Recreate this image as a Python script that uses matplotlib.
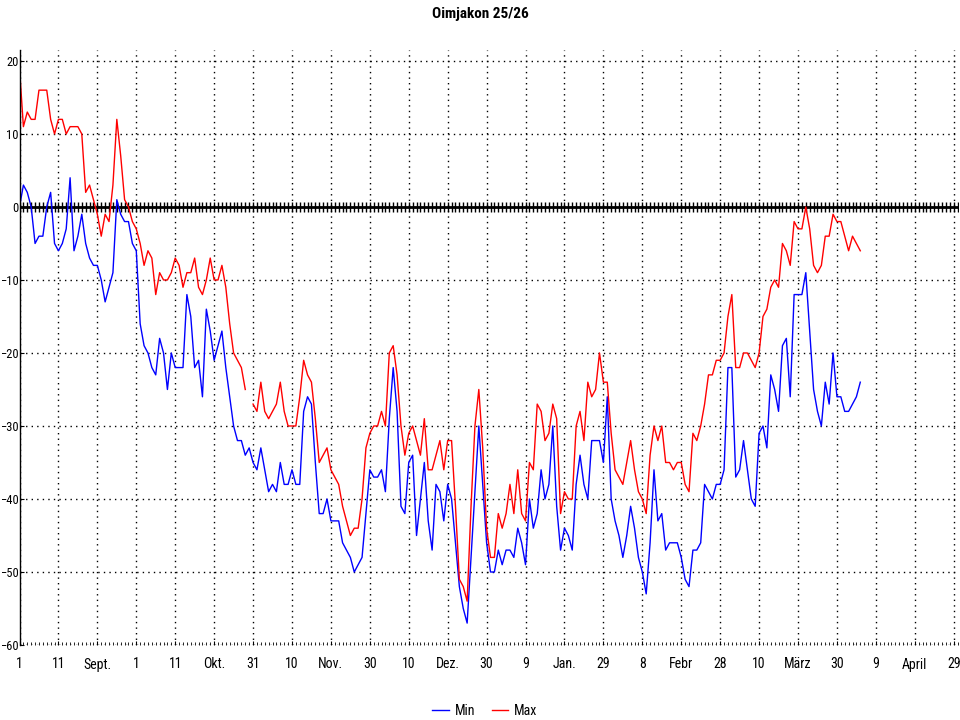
import numpy as np
import matplotlib
matplotlib.use("Agg")
import matplotlib.pyplot as plt
import matplotlib.patheffects as pe
from matplotlib import font_manager
from matplotlib.ticker import MultipleLocator

# daily values from 1 Sept 2025 on (day 0 = 1 Sept)
t_max = [19, 11, 13, 12, 12, 16, 16, 16, 12, 10, 12, 12, 10, 11, 11, 11, 10, 2, 3, 1,
         -1, -4, -1, -2, 3, 12, 7, 1, 0, -2, -3, -5, -8, -6, -7, -12, -9, -10, -10, -9,
         -7, -8, -11, -9, -9, -7, -11, -12, -10, -7, -10, -10, -8, -11, -16, -20, -21, -22, -25, np.nan,
         -27, -28, -24, -28, -29, -28, -27, -24, -28, -30, -30, -30, -26, -21, -23, -24, -29, -35, -34, -33,
         -36, -37, -38, -41, -43, -45, -44, -44, -40, -33, -31, -30, -30, -28, -30, -20, -19, -23, -30, -34,
         -31, -30, -32, -34, -29, -36, -36, -34, -32, -36, -32, -32, -41, -51, -52, -54, -41, -30, -25, -33,
         -44, -48, -48, -42, -44, -42, -38, -42, -36, -42, -43, -35, -36, -27, -28, -32, -31, -27, -29, -42,
         -39, -40, -40, -30, -28, -32, -24, -26, -25, -20, -24, -24, -31, -36, -37, -38, -35, -32, -36, -39,
         -40, -42, -34, -30, -32, -30, -35, -35, -36, -35, -35, -38, -39, -31, -32, -30, -27, -23, -23, -21,
         -21, -20, -15, -12, -22, -22, -20, -20, -21, -22, -20, -15, -14, -11, -10, -11, -5, -6, -8, -2,
         -3, -3, 0, -3, -8, -9, -8, -4, -4, -1, -2, -2, -4, -6, -4, -5, -6]

t_min = [0, 3, 2, 0, -5, -4, -4, 0, 2, -5, -6, -5, -3, 4, -6, -4, -1, -5, -7, -8,
         -8, -10, -13, -11, -9, 1, -1, -2, -2, -5, -6, -16, -19, -20, -22, -23, -18, -20, -25, -20,
         -22, -22, -22, -12, -15, -22, -21, -26, -14, -17, -21, -19, -17, -22, -26, -30, -32, -32, -34, -33,
         -35, -36, -33, -36, -39, -38, -39, -35, -38, -38, -36, -38, -38, -28, -26, -27, -35, -42, -42, -40,
         -43, -43, -43, -46, -47, -48, -50, -49, -48, -42, -36, -37, -37, -36, -39, -29, -22, -28, -41, -42,
         -35, -34, -45, -40, -35, -43, -47, -38, -39, -43, -38, -40, -46, -52, -55, -57, -48, -39, -30, -38,
         -46, -50, -50, -47, -49, -47, -47, -48, -44, -46, -49, -40, -44, -42, -36, -40, -38, -30, -41, -47,
         -44, -45, -47, -38, -34, -38, -40, -32, -32, -32, -35, -26, -40, -43, -45, -48, -45, -41, -44, -48,
         -50, -53, -46, -36, -43, -42, -47, -46, -46, -46, -48, -51, -52, -47, -47, -46, -38, -39, -40, -38,
         -38, -36, -22, -22, -37, -36, -32, -36, -40, -41, -31, -30, -33, -23, -25, -28, -19, -18, -26, -12,
         -12, -12, -9, -17, -25, -28, -30, -24, -27, -20, -26, -26, -28, -28, -27, -26, -24]

tick_labels = ["1", "11", "Sept.", "1", "11", "Okt.", "31", "10", "Nov.", "30", "10", "Dez.",
               "30", "9", "Jan.", "29", "8", "Febr", "28", "10", "März", "30", "9", "April", "29"]

# narrow font like the original, if one is installed
weights = {}
for f in font_manager.fontManager.ttflist:
    if "Narrow" in f.name or "Condensed" in f.name:
        w = f.weight if isinstance(f.weight, int) else 400
        weights.setdefault(f.name, set()).add(w)
fam = "Liberation Sans"
for cand in ["Liberation Sans Narrow", "Roboto Condensed", "Open Sans Condensed"] + sorted(weights):
    if cand in weights and 400 in weights[cand]:
        fam = cand
        break
else:
    if weights:
        fam = sorted(weights)[0]
has_bold = fam in weights and any(w >= 600 for w in weights[fam])
plt.rcParams['font.family'] = [fam, 'DejaVu Sans']

days = np.arange(len(t_max))

fig = plt.figure(figsize=(9.6, 7.2), dpi=100)
ax = fig.add_axes([19.5 / 960, 75 / 720, 938.5 / 960, 595 / 720])

ax.plot(days, t_min, color='#0000ff', lw=1, label='Min')
ax.plot(days, t_max, color='#ff0000', lw=1, label='Max')

# thick zero line with a tick for every day
all_days = np.arange(0, 242)
ax.plot(all_days, np.zeros(len(all_days)), color='black', lw=2, marker='|', ms=7, mew=1, zorder=1)

ax.set_xlim(0, 241.1)
ax.set_ylim(-60, 21.5)
ax.set_xticks(np.arange(0, 241, 10))
ax.set_xticklabels(tick_labels)
ax.xaxis.set_minor_locator(MultipleLocator(1))
ax.set_yticks(np.arange(-60, 21, 10))

ax.grid(True, which='major', color='black', linestyle=(0, (1, 3)), lw=1)
for s in ['top', 'right', 'bottom']:
    ax.spines[s].set_visible(False)
ax.spines['left'].set_linewidth(1)

ax.tick_params(axis='x', which='major', length=3, direction='in', labelsize=10, pad=9)
ax.tick_params(axis='x', which='minor', length=2, direction='in')
ax.tick_params(axis='y', length=3, direction='in', labelsize=9, pad=0.5)

title = fig.suptitle('Oimjakon 25/26', y=0.99, fontsize=11, fontweight='bold')
if not has_bold:
    title.set_path_effects([pe.withStroke(linewidth=0.9, foreground='black')])
fig.legend(loc='lower center', bbox_to_anchor=(0.505, -0.014), ncol=2, frameon=False,
           handlelength=1.2, fontsize=10, columnspacing=1.2, handletextpad=0.4)

fig.savefig('out.png', dpi=100)
